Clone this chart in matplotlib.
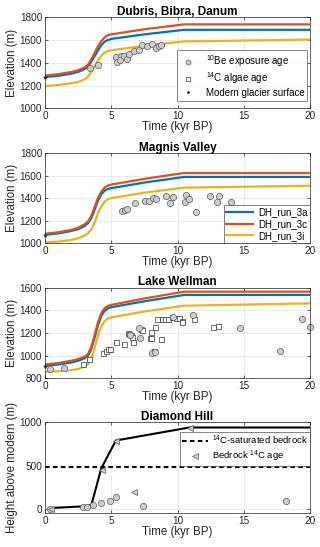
import matplotlib
matplotlib.use('Agg')
import matplotlib.pyplot as plt

plt.rcParams['font.family'] = ['Liberation Sans', 'DejaVu Sans']
plt.rcParams['mathtext.fontset'] = 'custom'
plt.rcParams['mathtext.rm'] = 'Liberation Sans'
plt.rcParams['mathtext.it'] = 'Liberation Sans:italic'
plt.rcParams['mathtext.bf'] = 'Liberation Sans:bold'

C_BLUE = '#0072BD'
C_ORANGE = '#D95319'
C_YELLOW = '#EDB120'
AX_COL = '#262626'

# ---------------- data ----------------
run_labels = ['DH_run_3a', 'DH_run_3c', 'DH_run_3i']
t_model = [0, 1, 2, 2.5, 3, 3.25, 3.5, 3.75, 4, 4.25, 4.5, 4.75, 5, 7.5, 10.5, 20]

dbd_3a = [1275, 1285, 1305, 1320, 1345, 1370, 1410, 1460, 1510, 1555, 1585, 1600, 1610, 1650, 1690, 1690]
dbd_3c = [1288, 1300, 1320, 1335, 1360, 1385, 1430, 1490, 1545, 1590, 1625, 1643, 1650, 1695, 1738, 1738]
dbd_3i = [1195, 1205, 1220, 1232, 1255, 1280, 1320, 1370, 1420, 1462, 1490, 1503, 1510, 1550, 1588, 1604]

mv_3a = [1075, 1088, 1110, 1125, 1155, 1180, 1225, 1300, 1380, 1435, 1468, 1483, 1490, 1540, 1590, 1590]
mv_3c = [1085, 1098, 1120, 1138, 1170, 1195, 1245, 1325, 1405, 1460, 1495, 1513, 1522, 1573, 1625, 1625]
mv_3i = [1008, 1015, 1030, 1045, 1070, 1090, 1125, 1185, 1270, 1330, 1370, 1392, 1402, 1450, 1495, 1512]

lw_3a = [910, 922, 940, 955, 978, 1000, 1060, 1160, 1270, 1350, 1395, 1418, 1428, 1480, 1536, 1536]
lw_3c = [922, 935, 955, 970, 992, 1015, 1080, 1185, 1295, 1375, 1420, 1440, 1448, 1505, 1565, 1565]
lw_3i = [858, 862, 872, 882, 903, 925, 972, 1070, 1180, 1260, 1305, 1328, 1338, 1390, 1441, 1462]

# Dubris, Bibra, Danum 10Be ages
dbd_be_t = [3.40, 4.03, 5.36, 5.46, 5.74, 5.66, 5.99, 6.21, 6.36, 6.72, 7.07, 7.32, 7.72, 8.05, 8.35, 8.63, 8.73]
dbd_be_z = [1355, 1378, 1454, 1404, 1462, 1425, 1462, 1430, 1475, 1504, 1510, 1559, 1548, 1568, 1533, 1548, 1559]
dbd_modern = [1275]

# Magnis Valley 10Be ages
mv_be_t = [5.84, 6.06, 6.21, 6.79, 7.57, 7.85, 8.13, 8.38, 9.11, 9.43, 9.63, 10.62, 10.57, 10.89, 11.37, 12.45, 13.10, 12.98, 14.00]
mv_be_z = [1285, 1296, 1308, 1356, 1376, 1376, 1400, 1394, 1423, 1358, 1414, 1426, 1367, 1391, 1276, 1420, 1420, 1364, 1370]
mv_modern = [1075]

# Lake Wellman
lw_be_t = [0.40, 1.43, 6.45, 7.07, 7.17, 8.05, 8.30, 9.69, 11.19, 14.72, 17.74, 19.37, 20.0]
lw_be_z = [878, 893, 1180, 1247, 1160, 1022, 1032, 1344, 1357, 1242, 1045, 1326, 1256]
lw_c14_t = [2.84, 3.35, 4.40, 4.60, 4.75, 4.90, 5.36, 5.99, 6.24, 6.36, 6.46, 6.54, 6.67, 7.25, 7.30,
            7.90, 7.97, 8.00, 8.30, 8.43, 8.73, 8.80, 9.06, 9.30, 9.56, 9.90, 10.14, 10.31, 10.36, 11.27, 12.65, 13.03, 8.20]
lw_c14_z = [923, 971, 1027, 1045, 1055, 1063, 1118, 1100, 1203, 1192, 1182, 1165, 1124, 1238, 1225,
            1152, 1155, 1206, 1252, 1321, 1144, 1324, 1328, 1321, 1338, 1332, 1335, 1309, 1295, 1324, 1250, 1262, 1040]
lw_modern = [910]

# Diamond Hill
dh_line_t = [0.3, 2.9, 3.5, 4.25, 5.35, 10.9, 20]
dh_line_h = [10, 30, 45, 470, 790, 940, 940]
dh_sat = 483
dh_c14_t = [0.45, 4.30, 5.35, 6.75, 10.95]
dh_c14_h = [5, 452, 789, 192, 940]
dh_be_t = [0.35, 2.90, 3.14, 3.64, 4.20, 4.90, 5.35, 7.36, 18.2]
dh_be_h = [5, 19, 19, 50, 65, 96, 134, 38, 97]

# ---------------- figure ----------------
fig = plt.figure(figsize=(3.2, 5.47), dpi=100)
L, W = 45 / 320, 265 / 320
panels = [(17.3, 108.3), (153.3, 243.3), (287.7, 378.3), (422.3, 513.3)]
axes = []
for top, bot in panels:
    ax = fig.add_axes([L, 1 - bot / 547, W, (bot - top) / 547])
    axes.append(ax)

circ = dict(marker='o', ls='none', ms=4.5, mfc='#cccccc', mec='#5a5a5a', mew=0.5)
sq = dict(marker='s', ls='none', ms=3.6, mfc='white', mec='#333333', mew=0.5)
star = dict(marker='*', ls='none', ms=3.2, mfc='black', mec='#444444', mew=0.3)
tri = dict(marker='<', ls='none', ms=4.2, mfc='#cccccc', mec='#5a5a5a', mew=0.5)


def style(ax, ylim, yticks, title, ylabel='Elevation (m)'):
    ax.set_xlim(0, 20)
    ax.set_ylim(*ylim)
    ax.set_xticks([0, 5, 10, 15, 20])
    ax.set_yticks(yticks)
    ax.grid(True, color='#e3e3e3', lw=0.5)
    ax.set_axisbelow(True)
    ax.tick_params(direction='in', length=2.5, width=0.5, labelsize=7.2, pad=2, colors=AX_COL,
                   top=True, right=True)
    for s in ax.spines.values():
        s.set_color(AX_COL)
        s.set_linewidth(0.5)
    ax.set_title(title, fontsize=8.5, fontweight='bold', pad=2, color='black')
    ax.set_xlabel('Time (kyr BP)', fontsize=8.3, labelpad=0, color=AX_COL)
    ax.set_ylabel(ylabel, fontsize=8.3, labelpad=1, color=AX_COL)


def runs(ax, a, c, i):
    ax.plot(t_model, a, color=C_BLUE, lw=1.6, label=run_labels[0])
    ax.plot(t_model, c, color=C_ORANGE, lw=1.6, label=run_labels[1])
    ax.plot(t_model, i, color=C_YELLOW, lw=1.6, label=run_labels[2])


def frame(leg):
    leg.get_frame().set_edgecolor(AX_COL)
    leg.get_frame().set_linewidth(0.5)


# Panel 1
ax = axes[0]
runs(ax, dbd_3a, dbd_3c, dbd_3i)
h1, = ax.plot(dbd_be_t, dbd_be_z, **circ)
h2, = ax.plot([], [], **sq)
h3, = ax.plot([0] * len(dbd_modern), dbd_modern, **star, clip_on=False)
style(ax, (1000, 1800), range(1000, 1801, 200), 'Dubris, Bibra, Danum')
leg = ax.legend([h1, h2, h3], [r'$^{10}$Be exposure age', r'$^{14}$C algae age', 'Modern glacier surface'],
                loc='lower right', fontsize=7.0, frameon=True, fancybox=False, handlelength=1.6,
                handletextpad=1.0, labelspacing=0.15, borderpad=0.3, borderaxespad=0.0,
                markerscale=0.8, bbox_to_anchor=(0.99, 0.085))
frame(leg)

# Panel 2
ax = axes[1]
runs(ax, mv_3a, mv_3c, mv_3i)
lines = ax.get_lines()[:3]
ax.plot(mv_be_t, mv_be_z, **circ)
ax.plot([0] * len(mv_modern), mv_modern, **star, clip_on=False)
style(ax, (1000, 1800), range(1000, 1801, 200), 'Magnis Valley')
leg = ax.legend(lines, run_labels, loc='lower right', fontsize=7, frameon=True, fancybox=False,
                handlelength=2.8, handletextpad=0.5, labelspacing=0.2, borderpad=0.25,
                borderaxespad=0.0)
frame(leg)

# Panel 3
ax = axes[2]
runs(ax, lw_3a, lw_3c, lw_3i)
ax.plot(lw_c14_t, lw_c14_z, **sq, clip_on=False)
ax.plot(lw_be_t, lw_be_z, **circ, clip_on=False)
ax.plot([0] * len(lw_modern), lw_modern, **star, clip_on=False)
style(ax, (800, 1600), range(800, 1601, 200), 'Lake Wellman')

# Panel 4
ax = axes[3]
ax.plot(dh_line_t, dh_line_h, color='black', lw=1.5)
hd, = ax.plot([0, 20], [dh_sat, dh_sat], color='black', ls=(0, (2.2, 1.6)), lw=1.5)
ax.plot(dh_be_t, dh_be_h, **circ)
ht, = ax.plot(dh_c14_t, dh_c14_h, **tri)
style(ax, (-50, 1000), [0, 500, 1000], 'Diamond Hill', ylabel='Height above modern (m)')
leg = ax.legend([hd, ht], [r'$^{14}$C-saturated bedrock', r'Bedrock $^{14}$C age'],
                loc='upper right', fontsize=6.8, frameon=True, fancybox=False,
                handlelength=2.8, handletextpad=0.4, labelspacing=0.15, borderpad=0.2,
                borderaxespad=0.0, bbox_to_anchor=(1.0, 0.89))
frame(leg)

fig.savefig('out.png', dpi=100)
